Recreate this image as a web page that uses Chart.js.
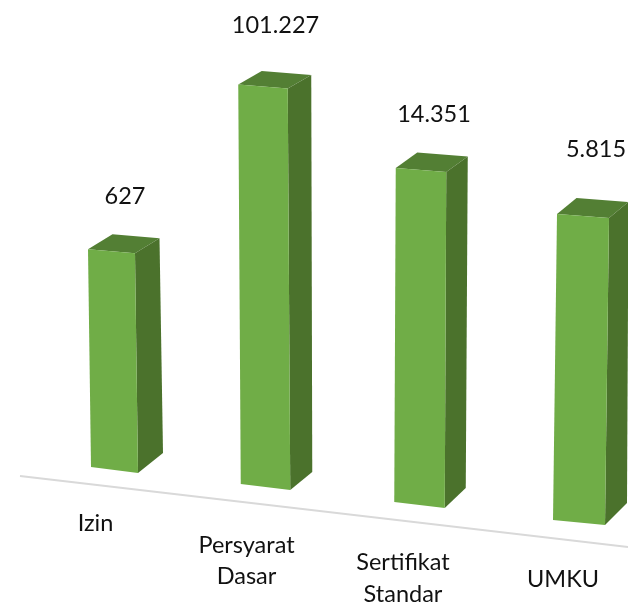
<!DOCTYPE html>
<html>
<head>
<meta charset="utf-8">
<style>
html,body{margin:0;padding:0;background:#fff}
#wrap{position:relative;width:628px;height:603px}
#c{filter:blur(0.45px)}
</style>
<script src="https://cdn.jsdelivr.net/npm/chart.js@4"></script>
</head>
<body>
<div id="wrap"><canvas id="c" width="628" height="603"></canvas></div>
<script>
const categories = [['Izin'], ['Persyarat', 'Dasar'], ['Sertifikat', 'Standar'], ['UMKU']];
const values = [627, 101227, 14351, 5815];
const valueLabels = ['627', '101.227', '14.351', '5.815'];

// Perspective of the picture, per bar (styling only, not data)
const nudgeX = [1.5, -3.5, -5.5, -2];
const floorDY = [-60, -43, -25, -7.5];
const heightScale = [0.978, 1.0, 1.007, 1.018];
const lean = [-3, -2.5, 1.5, 4];
const faceWidth = [47, 49.5, 50.5, 52];
const topSlope = [4, 4, 4, 4];
const bottomSlope = [6, 6, 6, 5];
const depthTop = [[24.5, -15], [23.5, -13.5], [21.5, -15.5], [19.5, -16]];
const depthBottom = [[25, -20], [22, -18], [21, -20], [22, -22]];
const valueOffset = [[13.5, -55], [12.5, -61.5], [13, -56], [13, -66]];
const catCenter = [[-19, 53], [-19, 58], [-16.5, 57], [-16, 56.5]];
const lineGap = [0, 31, 32, 0];

const FONT = '23.5px Lato, "Open Sans", sans-serif';
const FRONT = '#70ad47', SIDE = '#4b722c', TOP = '#537f34', TEXT = '#111111';

function quad(ctx, pts, color) {
  ctx.beginPath();
  pts.forEach((p, i) => i ? ctx.lineTo(p[0], p[1]) : ctx.moveTo(p[0], p[1]));
  ctx.closePath();
  ctx.fillStyle = color;
  ctx.fill();
}

function geom(el, i) {
  const bx = el.x + nudgeX[i];
  const by = el.base + floorDY[i];
  const h = (el.base - el.y) * heightScale[i];
  const tx = bx + lean[i], ty = by - h;
  const w = faceWidth[i] / 2;
  return {
    tl: [tx - w, ty - topSlope[i] / 2], tr: [tx + w, ty + topSlope[i] / 2],
    bl: [bx - w, by - bottomSlope[i] / 2], br: [bx + w, by + bottomSlope[i] / 2],
    tx, ty, bx, by
  };
}

const bar3d = {
  id: 'bar3d',
  afterDatasetsUpdate(chart) {
    chart.getDatasetMeta(0).data.forEach((el, i) => {
      el.draw = function (ctx) {
        const g = geom(this, i), dt = depthTop[i], db = depthBottom[i];
        ctx.save();
        quad(ctx, [g.tl, [g.tl[0] + dt[0], g.tl[1] + dt[1]], [g.tr[0] + dt[0], g.tr[1] + dt[1]], g.tr], TOP);
        quad(ctx, [g.tr, [g.tr[0] + dt[0], g.tr[1] + dt[1]], [g.br[0] + db[0], g.br[1] + db[1]], g.br], SIDE);
        quad(ctx, [g.tl, g.tr, g.br, g.bl], FRONT);
        ctx.restore();
      };
    });
  },
  beforeDatasetsDraw(chart) {
    const c = chart.ctx;
    c.save();
    c.strokeStyle = '#d9d9d9';
    c.lineWidth = 2;
    c.beginPath();
    c.moveTo(20, 476);
    c.lineTo(chart.width, 547);
    c.stroke();
    c.restore();
  },
  afterDatasetsDraw(chart) {
    const c = chart.ctx, meta = chart.getDatasetMeta(0);
    c.save();
    c.font = FONT;
    c.fillStyle = TEXT;
    c.textAlign = 'center';
    c.textBaseline = 'middle';
    meta.data.forEach((el, i) => {
      const g = geom(el, i);
      c.fillText(valueLabels[i], g.tx + valueOffset[i][0], g.ty + valueOffset[i][1]);
      categories[i].forEach((line, k) => {
        c.fillText(line, g.bx + catCenter[i][0], g.by + catCenter[i][1] + k * lineGap[i]);
      });
    });
    c.restore();
  }
};

new Chart(document.getElementById('c'), {
  type: 'bar',
  data: {
    labels: categories,
    datasets: [{ data: values, backgroundColor: FRONT, barThickness: 48, clip: false }]
  },
  options: {
    responsive: false,
    animation: false,
    layout: { padding: { left: 113, right: 47, top: 50, bottom: 73 } },
    plugins: { legend: { display: false }, tooltip: { enabled: false } },
    scales: {
      x: { display: false, offset: false },
      y: { type: 'logarithmic', display: false, min: 1, max: 1000000 }
    }
  },
  plugins: [bar3d]
});
</script>
</body>
</html>
